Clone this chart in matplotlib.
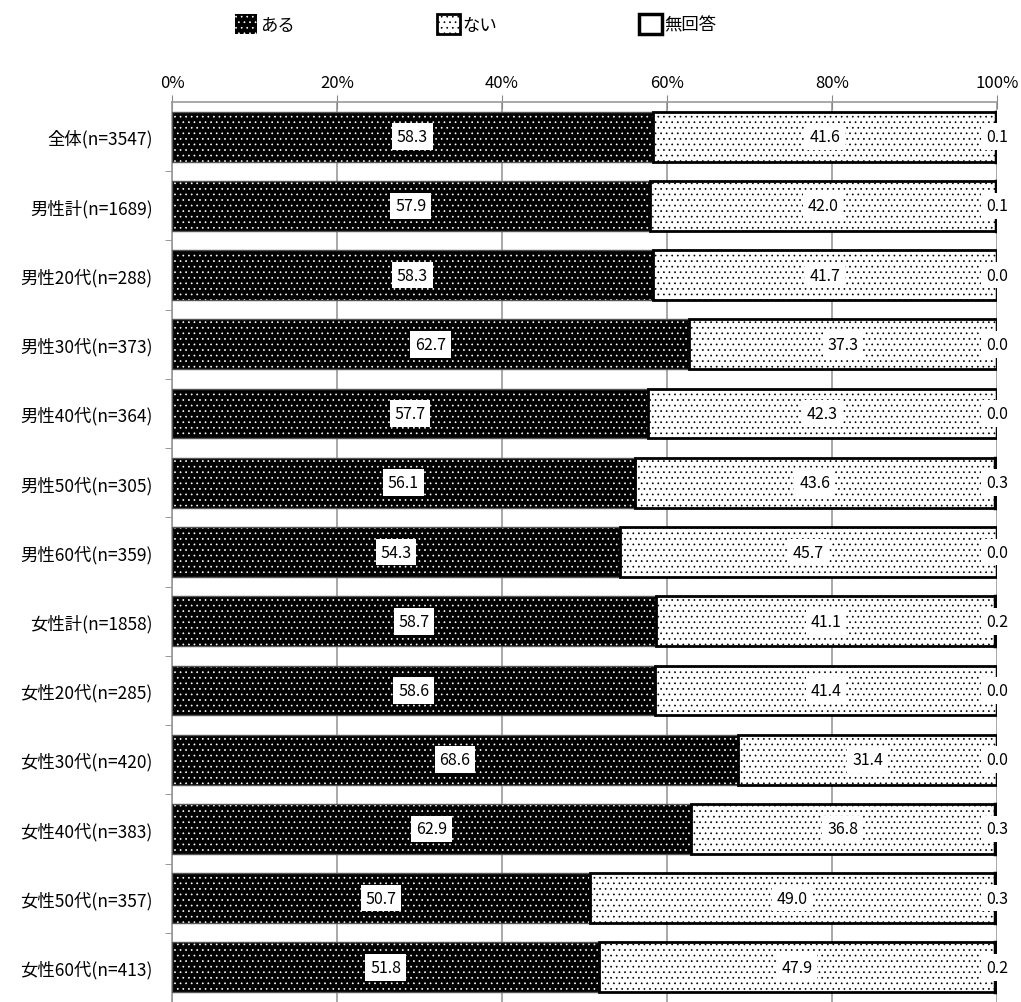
import numpy as np
import matplotlib
matplotlib.use("Agg")
import matplotlib.pyplot as plt
from matplotlib.patches import Patch

plt.rcParams['font.family'] = ['Noto Sans CJK JP', 'DejaVu Sans']
plt.rcParams['hatch.linewidth'] = 0.5

categories = ['全体(n=3547)', '男性計(n=1689)', '男性20代(n=288)', '男性30代(n=373)',
              '男性40代(n=364)', '男性50代(n=305)', '男性60代(n=359)', '女性計(n=1858)',
              '女性20代(n=285)', '女性30代(n=420)', '女性40代(n=383)', '女性50代(n=357)',
              '女性60代(n=413)']
aru = [58.3, 57.9, 58.3, 62.7, 57.7, 56.1, 54.3, 58.7, 58.6, 68.6, 62.9, 50.7, 51.8]
nai = [41.6, 42.0, 41.7, 37.3, 42.3, 43.6, 45.7, 41.1, 41.4, 31.4, 36.8, 49.0, 47.9]
mukaito = [0.1, 0.1, 0.0, 0.0, 0.0, 0.3, 0.0, 0.2, 0.0, 0.0, 0.3, 0.3, 0.2]
series_names = ['ある', 'ない', '無回答']
xticks = [0, 20, 40, 60, 80, 100]

fig = plt.figure(figsize=(10.21, 10.03), dpi=100)
ax = fig.add_axes([172 / 1021, 0, (997 - 172) / 1021, (1003 - 103) / 1003])

y = np.arange(len(categories))
aru = np.array(aru)
nai = np.array(nai)
mukaito = np.array(mukaito)
h = 0.72
dots = '...'

# ある : black with white dots
ax.barh(y, aru, height=h, color='black', edgecolor='white', hatch=dots, linewidth=0, zorder=2)
ax.barh(y, aru, height=h, fill=False, edgecolor='#555555', linewidth=1.0, zorder=3)
# ない : white with black dots
ax.barh(y, nai, left=aru, height=h, color='white', edgecolor='black', hatch=dots, linewidth=0, zorder=2)
ax.barh(y, nai, left=aru, height=h, fill=False, edgecolor='black', linewidth=2.0, zorder=3)
# 無回答
ax.barh(y, mukaito, left=aru + nai, height=h, color='white', edgecolor='black', linewidth=2.5, zorder=3)

box = dict(boxstyle='square,pad=0.3', facecolor='white', edgecolor='none')
for i in range(len(categories)):
    ax.text(aru[i] / 2, y[i], f'{aru[i]:.1f}', ha='center', va='center', fontsize=11.5, bbox=box, zorder=5)
    ax.text(aru[i] + nai[i] / 2, y[i], f'{nai[i]:.1f}', ha='center', va='center', fontsize=11.5, bbox=box, zorder=5)
    ax.text(100, y[i], f'{mukaito[i]:.1f}', ha='center', va='center', fontsize=11.5, bbox=box, zorder=5)

ax.set_xlim(0, 100)
ax.set_ylim(12 + (1003 - 979) / 70, -0.5)
ax.set_xticks(xticks)
ax.set_xticklabels([f'{t}%' for t in xticks], fontsize=12)
ax.xaxis.tick_top()
ax.tick_params(axis='x', direction='inout', length=10, color='#888888', pad=3)
ax.set_yticks(y)
ax.set_yticklabels(categories, fontsize=12.5)
ax.set_yticks(np.arange(len(categories)) + 0.5, minor=True)
ax.tick_params(axis='y', which='major', length=0, pad=14)
ax.tick_params(axis='y', which='minor', length=5, color='#888888')
ax.grid(axis='x', color='#999999', linewidth=1.2, zorder=0)
ax.set_axisbelow(True)
for s in ['right', 'bottom']:
    ax.spines[s].set_visible(False)
ax.spines['top'].set_color('#999999')
ax.spines['left'].set_color('#999999')
ax.spines['top'].set_linewidth(1.2)
ax.spines['left'].set_linewidth(1.2)

handles = [Patch(facecolor='black', edgecolor='white', hatch=dots, linewidth=0),
           Patch(facecolor='white', edgecolor='black', hatch=dots, linewidth=2),
           Patch(facecolor='white', edgecolor='black', linewidth=2.5)]
fig.legend(handles, series_names, loc='center', bbox_to_anchor=(0.466, 0.975), ncol=3,
           frameon=False, fontsize=12.5, handlelength=1.3, handleheight=1.4,
           handletextpad=0.15, columnspacing=8.2)

fig.savefig('out.png', dpi=100)
